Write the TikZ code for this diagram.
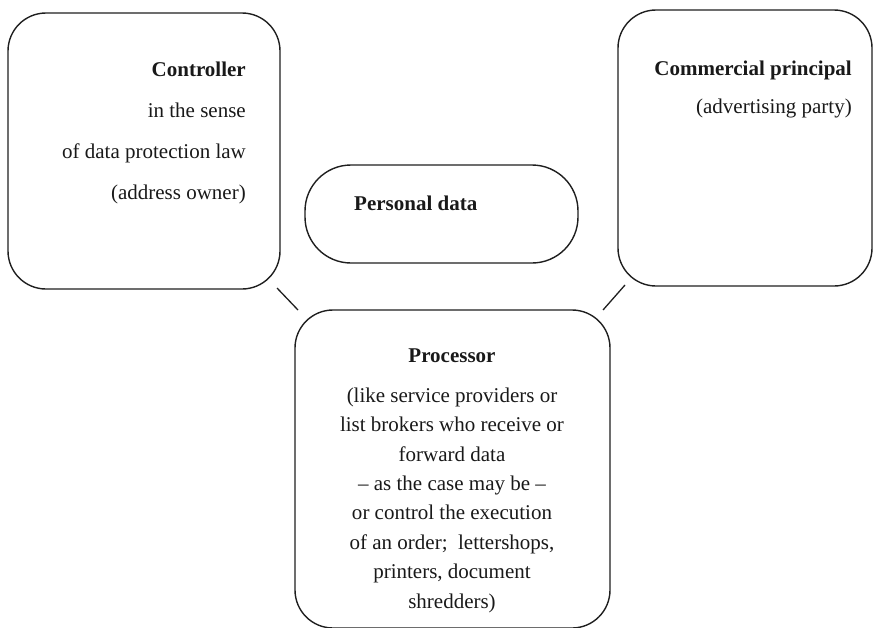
\documentclass[tikz,border=0pt]{standalone}
\usepackage{fontspec}
\setmainfont{Liberation Serif}
\begin{document}
\begin{tikzpicture}[x=1pt,y=-1pt,
  box/.style={draw=black!88, line width=1.4pt, rounded corners=38pt, inner sep=0pt},
  conn/.style={draw=black!88, line width=1.3pt},
  txt/.style={inner sep=0pt, text=black!90, font=\fontsize{21}{41}\selectfont},
  ptxt/.style={inner sep=0pt, text=black!90, font=\fontsize{21}{29.4}\selectfont}]
\useasboundingbox (0,0) rectangle (874,627);
% boxes
\node[box, minimum width=272pt, minimum height=276pt] (ctrl) at (144,151) {};
\node[box, minimum width=254pt, minimum height=276pt] (comm) at (745,148) {};
\node[box, rounded corners=46pt, minimum width=273pt, minimum height=98pt] (pd) at (441.5,214) {};
\node[box, minimum width=315pt, minimum height=318pt] (proc) at (452.5,469) {};
% texts (base anchor = baseline of the last line)
\node[txt, align=right, anchor=base east] (ctrlt) at (246,199)
  {\textbf{Controller}\\ in the sense\\ of data protection law\\ (address owner)};
\node[txt, align=right, anchor=base east, font=\fontsize{21}{38}\selectfont] (commt) at (852,113)
  {\textbf{Commercial principal}\\ (advertising party)};
\node[txt, anchor=base west] (pdt) at (354,210) {\textbf{Personal data}};
\node[txt, anchor=base] (proct) at (452,362) {\textbf{Processor}};
\node[ptxt, align=center, anchor=base] (procb) at (452,608)
  {(like service providers or\\ list brokers who receive or\\ forward data\\ -- as the case may be --\\ or control the execution\\ of an order;\ \ lettershops,\\ printers, document\\ shredders)};
% connectors
\coordinate (c1) at (277,288);
\coordinate (c2) at (298,310);
\coordinate (c3) at (625,285);
\coordinate (c4) at (603,310);
\draw[conn] (c1) -- (c2);
\draw[conn] (c3) -- (c4);
\end{tikzpicture}
\end{document}
